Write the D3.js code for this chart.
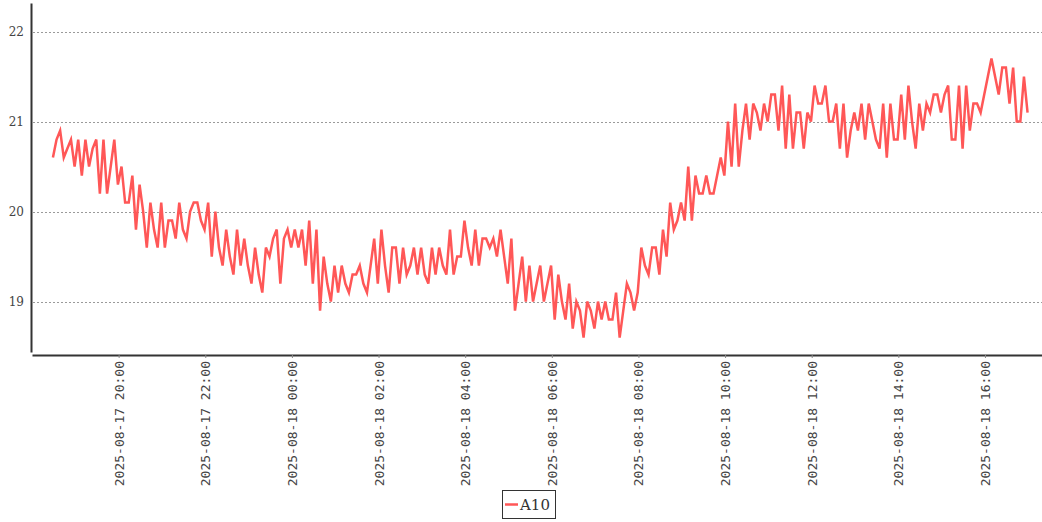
<!DOCTYPE html>
<html><head><meta charset="utf-8">
<script src="https://cdn.jsdelivr.net/npm/d3@7"></script>
<style>body{margin:0;background:#fff;} svg{display:block;}</style>
</head><body><svg id="chart" width="1042" height="522"></svg>
<script>
// ---- data ----
const seriesName = "A10";
const startTime = "2025-08-17T18:29:00";
const stepMinutes = 5;
const values = [
  20.6, 20.8, 20.9, 20.6, 20.7, 20.8, 20.5, 20.8, 20.4, 20.8, 20.5, 20.7, 20.8, 20.2, 20.8, 20.2, 20.5, 20.8, 20.3, 20.5,
  20.1, 20.1, 20.4, 19.8, 20.3, 20.0, 19.6, 20.1, 19.8, 19.6, 20.1, 19.6, 19.9, 19.9, 19.7, 20.1, 19.8, 19.7, 20.0, 20.1, 20.1, 19.9, 19.8, 20.1, 19.5,
  20.0, 19.6, 19.4, 19.8, 19.5, 19.3, 19.8, 19.4, 19.7, 19.4, 19.2, 19.6, 19.3, 19.1, 19.6,
  19.5, 19.7, 19.8, 19.2, 19.7, 19.8, 19.6, 19.8, 19.6, 19.8, 19.4, 19.9, 19.2, 19.8, 18.9, 19.5, 19.2, 19.0, 19.4, 19.1, 19.4, 19.2, 19.1, 19.3, 19.3,
  19.4,
  19.2, 19.1, 19.4, 19.7, 19.2, 19.8, 19.4, 19.1, 19.6, 19.6, 19.2, 19.6,
  19.3, 19.4, 19.6, 19.3, 19.6, 19.3, 19.2, 19.6, 19.3, 19.6, 19.4, 19.3, 19.8, 19.3, 19.5, 19.5, 19.9, 19.6, 19.4, 19.8, 19.4, 19.7,
  19.7, 19.6, 19.7, 19.5, 19.8, 19.5, 19.2, 19.7, 18.9, 19.2, 19.5, 19.0, 19.4, 19.0, 19.2, 19.4, 19.0, 19.2, 19.4, 18.8,
  19.3, 19.0, 18.8, 19.2, 18.7, 19.0, 18.9, 18.6, 19.0, 18.9, 18.7, 19.0, 18.8, 19.0, 18.8, 18.8, 19.1, 18.6, 18.9, 19.2,
  19.1, 18.9, 19.1, 19.6, 19.4, 19.3, 19.6, 19.6, 19.3, 19.8, 19.5, 20.1, 19.8, 19.9, 20.1, 19.9, 20.5,
  19.9, 20.4, 20.2, 20.2, 20.4, 20.2, 20.2, 20.4, 20.6, 20.4, 21.0, 20.5, 21.2, 20.5, 20.9, 21.2, 20.8, 21.2, 21.1, 20.9, 21.2, 21.0,
  21.3, 21.3, 20.9, 21.4, 20.7, 21.3, 20.7, 21.1, 21.1, 20.7, 21.1, 21.0, 21.4, 21.2, 21.2, 21.4, 21.0, 21.0, 21.2, 20.7, 21.2,
  20.6, 20.9, 21.1, 20.9, 21.2, 20.8, 21.2, 21.0, 20.8, 20.7, 21.2, 20.6, 21.2, 20.8, 20.8, 21.3, 20.8, 21.4, 21.0, 20.7, 21.2, 20.9,
  21.2, 21.1, 21.3, 21.3, 21.1, 21.3, 21.4, 20.8, 20.8, 21.4, 20.7, 21.4, 20.9, 21.2, 21.2, 21.1, 21.3, 21.5, 21.7, 21.5, 21.3, 21.6, 21.6, 21.2, 21.6, 21.0, 21.0, 21.5, 21.1
];
const yTicks = [19, 20, 21, 22];
const yDomain = [18.44, 22.317];
const xDomain = ["2025-08-17T18:00:00", "2025-08-18T17:19:00"];
const xTickTimes = [
  "2025-08-17T20:00:00", "2025-08-17T22:00:00", "2025-08-18T00:00:00", "2025-08-18T02:00:00",
  "2025-08-18T04:00:00", "2025-08-18T06:00:00", "2025-08-18T08:00:00", "2025-08-18T10:00:00",
  "2025-08-18T12:00:00", "2025-08-18T14:00:00", "2025-08-18T16:00:00"
];

// ---- chart ----
(function () {
  const parse = d3.timeParse("%Y-%m-%dT%H:%M:%S");
  const fmt = d3.timeFormat("%Y-%m-%d %H:%M");
  const t0 = parse(startTime);
  const data = values.map((v, i) => ({ t: d3.timeMinute.offset(t0, i * stepMinutes), v }));

  const svg = d3.select("#chart");
  const mLeft = 32, mRight = 1042, mTop = 3, mBottom = 352;
  const x = d3.scaleTime().domain(xDomain.map(parse)).range([mLeft, mRight]);
  const y = d3.scaleLinear().domain(yDomain).range([mBottom, mTop]);

  // gridlines
  svg.append("g").selectAll("line").data(yTicks).join("line")
    .attr("x1", mLeft + 1).attr("x2", mRight)
    .attr("y1", d => Math.round(y(d)) + 0.5).attr("y2", d => Math.round(y(d)) + 0.5)
    .attr("stroke", "#9a9a9a").attr("stroke-width", 1).attr("stroke-dasharray", "2,2");

  // left axis
  const gy = svg.append("g").attr("transform", `translate(${mLeft - 1},0)`)
    .call(d3.axisLeft(y).tickValues(yTicks).tickSize(0).tickPadding(7).tickFormat(d3.format("d")));
  gy.select(".domain").attr("stroke", "#333").attr("stroke-width", 2);
  gy.selectAll("text").attr("font-family", "DejaVu Serif").attr("font-size", 12).attr("fill", "#444");

  // bottom axis
  const gx = svg.append("g").attr("transform", `translate(0,355)`)
    .call(d3.axisBottom(x).tickValues(xTickTimes.map(parse)).tickSize(3).tickSizeOuter(0).tickFormat(fmt));
  gx.select(".domain").attr("stroke", "#333").attr("stroke-width", 2);
  gx.selectAll(".tick line").attr("stroke", "#888");
  gx.selectAll("text")
    .attr("font-family", "DejaVu Sans Mono").attr("font-size", 13).attr("fill", "#444")
    .attr("transform", "rotate(-90)")
    .attr("text-anchor", "end")
    .attr("x", -6).attr("y", 0).attr("dy", "0.35em");

  // series line
  svg.append("path").datum(data)
    .attr("fill", "none").attr("stroke", "#ff5757").attr("stroke-width", 2.5)
    .attr("stroke-linejoin", "miter")
    .attr("d", d3.line().x(d => x(d.t)).y(d => y(d.v)));

  // legend
  const lg = svg.append("g");
  lg.append("rect").attr("x", 502.5).attr("y", 490.5).attr("width", 53).attr("height", 28)
    .attr("fill", "#fff").attr("stroke", "#333").attr("stroke-width", 1);
  lg.append("line").attr("x1", 505).attr("x2", 518).attr("y1", 504.5).attr("y2", 504.5)
    .attr("stroke", "#ff5757").attr("stroke-width", 2.5);
  lg.append("text").attr("x", 520).attr("y", 510).text(seriesName)
    .attr("font-family", "DejaVu Serif").attr("font-size", 15).attr("fill", "#333");
})();
</script>
</body></html>
